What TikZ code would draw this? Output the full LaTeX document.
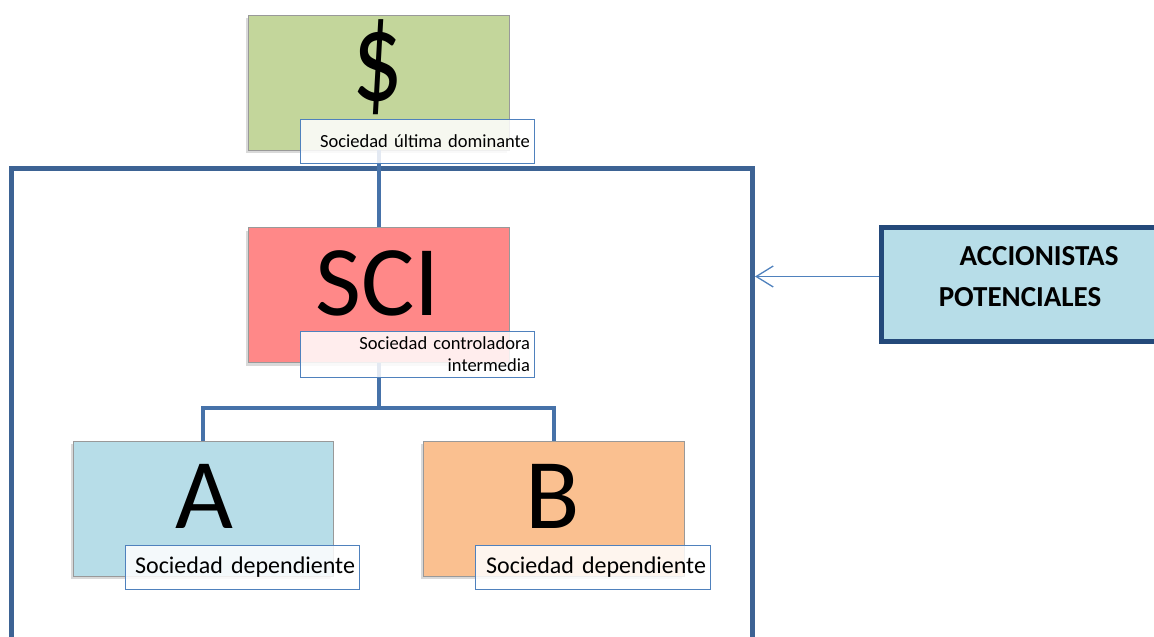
\documentclass[tikz,border=0pt]{standalone}
\usepackage{fontspec}
\setmainfont{Carlito}
\usetikzlibrary{arrows.meta,shadows}
\definecolor{frameblue}{HTML}{3D6394}
\definecolor{linkblue}{HTML}{4672A9}
\definecolor{labelblue}{HTML}{4F81BD}
\definecolor{accborder}{HTML}{24497A}
\definecolor{greenfill}{HTML}{C3D69B}
\definecolor{redfill}{HTML}{FF8888}
\definecolor{bluefill}{HTML}{B7DDE8}
\definecolor{orangefill}{HTML}{FAC090}
\begin{document}
\begin{tikzpicture}[x=1pt,y=-1pt,
  entity/.style={draw=gray!80, line width=0.8pt, minimum width=261pt,
    minimum height=135pt, inner sep=0pt,
    drop shadow={shadow xshift=-2pt, shadow yshift=-3pt, opacity=0.3}},
  bigletter/.style={font=\fontsize{100}{100}\selectfont, inner sep=0pt,
    text depth=0pt, anchor=base},
  tag/.style={draw=labelblue, line width=1pt, fill=white, fill opacity=0.85,
    text opacity=1, anchor=north west, minimum width=234pt, minimum height=44pt,
    text width=225pt, inner xsep=4.5pt, inner ysep=0pt, align=right},
  link/.style={draw=linkblue, line width=4pt},
  frame/.style={draw=frameblue, line width=5pt},
]
\clip (0,0) rectangle (1154,637);

% outer group frame, open at the bottom
\draw[frame] (11.5,650) |- (752.5,168.5) -- (752.5,650);

% company boxes
\node[entity, fill=greenfill] (top) at (378.5,82.5) {};
\node[entity, fill=redfill] (sci) at (378.5,295) {};
\node[entity, fill=bluefill, minimum width=260pt] (a) at (203,508.5) {};
\node[entity, fill=orangefill] (b) at (553.5,508.5) {};

\node[bigletter] (dollar) at (378,100.5) {\scalebox{1}[1.28]{\$}};
\node[bigletter] (scitext) at (378,315) {SCI};
\node[bigletter] (atext) at (204,528) {A};
\node[bigletter] (btext) at (553,528) {B};

% ownership links
\coordinate (fork) at (378.5,408);
\draw[link] (top.south) -- (sci.north);
\draw[link] (sci.south) -- (fork);
\draw[link] (a.north) |- (fork) -| (b.north);

% caption tags
\node[tag, font=\fontsize{18.5}{22}\selectfont] (toptag) at (300,119) {Sociedad última dominante};
\node[tag, font=\fontsize{18.5}{22}\selectfont, minimum height=46pt] (scitag) at (300,331) {Sociedad controladora\\intermedia};
\node[tag, font=\fontsize{24}{28}\selectfont] (atag) at (125,545) {Sociedad dependiente};
\node[tag, font=\fontsize{24}{28}\selectfont, minimum width=235pt, text width=226pt] (btag) at (475,545) {Sociedad dependiente};

% potential shareholders
\node[draw=accborder, line width=4.5pt, fill=bluefill, anchor=north west,
  minimum width=300pt, minimum height=114pt] (acc) at (879,225) {};
\node[font=\bfseries\fontsize{29}{41}\selectfont, align=center] (acctext) at (1020,277)
  {\hspace*{38pt}ACCIONISTAS\\POTENCIALES};
\coordinate (frameR) at (755,276.5);
\draw[labelblue, line width=1.3pt, -{Straight Barb[length=17pt,width=21pt]}]
  (acc.west |- frameR) -- (frameR);
\end{tikzpicture}
\end{document}
